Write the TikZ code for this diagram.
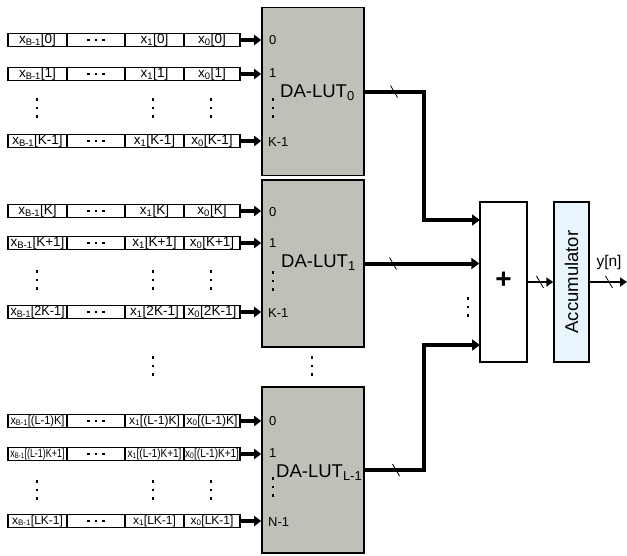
\documentclass[tikz,border=0pt]{standalone}
\usepackage{fontspec}
\setmainfont{Liberation Sans}
\usepackage{graphicx}
\usetikzlibrary{arrows.meta}
\definecolor{lutgray}{RGB}{192,192,184}
\definecolor{accblue}{RGB}{233,245,252}
\newsavebox\cellbox
\newcommand\cellfit[1]{\sbox\cellbox{#1}\ifdim\wd\cellbox>54pt\resizebox{54pt}{\height}{\usebox\cellbox}\else\usebox\cellbox\fi}
\newcommand\hdotsq[2]{%
  \foreach \dx in {-7.5,0,7.5}{\fill ({#1+\dx-1.4},{#2-1.4}) rectangle ++(2.8,2.8);}}
\newcommand\vdotsq[2]{%
  \foreach \dy in {-8.5,0,8.5}{\fill ({#1-1.4},{#2+\dy-1.4}) rectangle ++(2.8,2.8);}}
\newcommand\slashmk[2]{\draw[slash] ({#1-3.5},{#2-6}) -- ({#1+3.5},{#2+6});}
\newcommand\regrow[7]{%
  \node[#3, minimum width=59pt] (#1a) at (37.5,#2) {\cellfit{#4}};
  \node[#3, minimum width=58pt] (#1b) at (96,#2) {};
  \node[#3, minimum width=59pt] (#1c) at (154.5,#2) {\cellfit{#5}};
  \node[#3, minimum width=56pt] (#1d) at (212,#2) {\cellfit{#6}};
  \hdotsq{96}{#2}
  \draw[inarrow] (#1d.east) -- (#1d.east -| #7.west);
}
\tikzset{
  cell/.style={draw, line width=1.2pt, minimum height=13.5pt, inner sep=0pt,
    font=\fontsize{13.5}{14}\selectfont},
  cellsm/.style={cell, font=\fontsize{12}{12}\selectfont},
  lut/.style={draw, fill=lutgray, line width=1.6pt, inner sep=0pt},
  port/.style={anchor=west, inner sep=0pt, font=\fontsize{13}{13}\selectfont},
  lutlabel/.style={anchor=west, inner sep=0pt, font=\fontsize{18.5}{19}\selectfont},
  inarrow/.style={line width=3.5pt, -{Triangle[length=7pt,width=10pt]}},
  bus/.style={line width=4pt},
  busarrow/.style={line width=4pt, -{Triangle[length=8pt,width=11pt]}},
  thinbus/.style={line width=2.8pt, -{Triangle[length=7pt,width=9pt]}},
  slash/.style={line width=0.8pt},
  opbox/.style={draw, line width=1.4pt, inner sep=0pt, minimum height=160pt},
}
\begin{document}
\begin{tikzpicture}[x=1pt, y=-1pt]
\useasboundingbox (0,0) rectangle (627,555);

% LUTs
\node[lut, minimum width=102pt, minimum height=168pt] (lut0) at (313,91.5) {};
\node[lut, minimum width=102pt, minimum height=167pt] (lut1) at (313,263.5) {};
\node[lut, minimum width=102pt, minimum height=166pt] (lut2) at (313,470) {};

\node[lutlabel] (lab0) at (280,93) {DA-LUT\textsubscript{0}};
\node[lutlabel] (lab1) at (281,263) {DA-LUT\textsubscript{1}};
\node[lutlabel] (lab2) at (276,473) {DA-LUT\textsubscript{L-1}};

% ports
\node[port] (p00) at (269,40) {0};
\node[port] (p01) at (269,73) {1};
\node[port] (p0k) at (268,142) {K-1};
\vdotsq{273}{108}
\node[port] (p10) at (269,212) {0};
\node[port] (p11) at (269,243) {1};
\node[port] (p1k) at (268,313) {K-1};
\vdotsq{273}{281}
\node[port] (p20) at (269,421) {0};
\node[port] (p21) at (269,453) {1};
\node[port] (p2k) at (268,522) {N-1};
\vdotsq{273}{487}

% registers group 1
\regrow{ga}{40}{cell}{x\textsubscript{B-1}[0]}{x\textsubscript{1}[0]}{x\textsubscript{0}[0]}{lut0}
\regrow{gb}{74}{cell}{x\textsubscript{B-1}[1]}{x\textsubscript{1}[1]}{x\textsubscript{0}[1]}{lut0}
\regrow{gc}{141}{cell}{x\textsubscript{B-1}[K-1]}{x\textsubscript{1}[K-1]}{x\textsubscript{0}[K-1]}{lut0}
\vdotsq{37}{108}\vdotsq{153}{108}\vdotsq{211}{108}

% group 2
\regrow{gd}{211}{cell}{x\textsubscript{B-1}[K]}{x\textsubscript{1}[K]}{x\textsubscript{0}[K]}{lut1}
\regrow{ge}{243}{cell}{x\textsubscript{B-1}[K+1]}{x\textsubscript{1}[K+1]}{x\textsubscript{0}[K+1]}{lut1}
\regrow{gf}{312}{cell}{x\textsubscript{B-1}[2K-1]}{x\textsubscript{1}[2K-1]}{x\textsubscript{0}[2K-1]}{lut1}
\vdotsq{37}{280}\vdotsq{153}{280}\vdotsq{211}{280}

% between groups
\vdotsq{153}{366}\vdotsq{312}{366}

% group 3
\regrow{gg}{421}{cellsm}{x\textsubscript{B-1}[(L-1)K]}{x\textsubscript{1}[(L-1)K]}{x\textsubscript{0}[(L-1)K]}{lut2}
\regrow{gh}{454}{cellsm}{x\textsubscript{B-1}[(L-1)K+1]}{x\textsubscript{1}[(L-1)K+1]}{x\textsubscript{0}[(L-1)K+1]}{lut2}
\regrow{gi}{521}{cellsm}{x\textsubscript{B-1}[LK-1]}{x\textsubscript{1}[LK-1]}{x\textsubscript{0}[LK-1]}{lut2}
\vdotsq{37}{490}\vdotsq{153}{490}\vdotsq{211}{490}

% adder and accumulator
\node[opbox, minimum width=47pt] (add) at (503.5,282) {};
\node[font=\fontsize{28}{28}\selectfont\bfseries, inner sep=0pt] (plus) at (503.5,280) {+};
\node[opbox, fill=accblue, minimum width=35pt] (acc) at (571.5,282) {};
\node[rotate=90, font=\fontsize{18.5}{19}\selectfont, inner sep=0pt] (acclab) at (571.5,282) {Accumulator};
\vdotsq{468}{307}

% LUT outputs
\coordinate (in0) at (480,220);
\coordinate (in2) at (480,345);
\draw[bus] (lut0.east) -- ++(59,0) -- ++(0,128.5);
\draw[busarrow] (lut0.east) ++(57,128.5) -- (in0);
\draw[busarrow] (lut1.east) -- (lut1.east -| add.west);
\draw[bus] (lut2.east) -- ++(59,0) -- ++(0,-125);
\draw[busarrow] (lut2.east) ++(57,-125) -- (in2);
\slashmk{394}{91.5}
\slashmk{393}{263.5}
\slashmk{396}{470}

% adder -> accumulator -> output
\coordinate (out) at (627,282);
\draw[thinbus] (add.east) -- (acc.west);
\slashmk{540}{282}
\draw[thinbus] (acc.east) -- (out);
\slashmk{609}{282}
\node[font=\fontsize{15.5}{16}\selectfont, inner sep=0pt] (yn) at (609,262) {y[n]};
\end{tikzpicture}
\end{document}
